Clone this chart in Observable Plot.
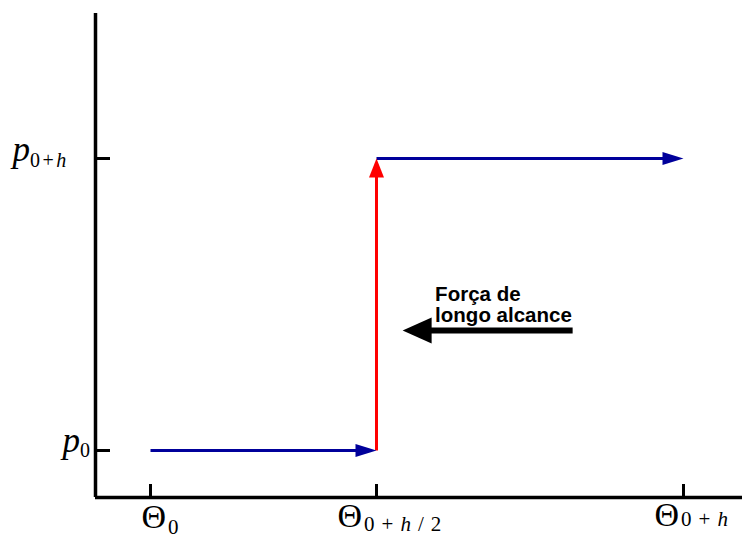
<!DOCTYPE html>
<html>
<head>
<meta charset="utf-8">
<script src="https://cdn.jsdelivr.net/npm/d3@7"></script>
<script src="https://cdn.jsdelivr.net/npm/@observablehq/plot@0.6"></script>
<style>
  html, body { margin: 0; padding: 0; background: #fff; }
  #chart svg { display: block; }
</style>
</head>
<body>
<div id="chart"></div>
<script>
// Momentum axis ticks: p0 and p(0+h)
const pValues = [0, 1];
const pBase = ["p", "p"];
const pSub = ["0", "0+h"];

// Angle axis ticks: θ0, θ(0+h/2), θ(0+h)
const thetaValues = [0, 0.424, 1];
const thetaBase = ["Θ", "Θ", "Θ"];
const thetaSub = ["0", "0+h/2", "0+h"];

// Trajectory corners in (θ, p): drift, kick, drift
const trajTheta = [0, 0.424, 0.424, 1];
const trajP = [0, 0, 1, 1];
const segColors = ["#00009b", "#ff0000", "#00009b"];

// Long-range force arrow (tail → tip) and its caption
const forceTheta = [0.792, 0.473];
const forceP = [0.411, 0.411];
const forceLabel = ["Força de\nlongo alcance"];
const forceLabelTheta = [0.534];
const forceLabelP = [0.564];

const xDomain = [-0.1032, 1.1107];
const yDomain = [-0.161, 1.4966];

const segments = d3.range(trajTheta.length - 1).map(i => ({
  x1: trajTheta[i], y1: trajP[i], x2: trajTheta[i + 1], y2: trajP[i + 1], color: segColors[i]
}));
const force = [{x1: forceTheta[0], y1: forceP[0], x2: forceTheta[1], y2: forceP[1]}];

// Filled triangular arrow head with its tip at the origin, pointing along (ux, uy)
function headSymbol(len, wid, ux, uy) {
  const nx = -uy, ny = ux;
  return {
    draw(ctx) {
      ctx.moveTo(0, 0);
      ctx.lineTo(-len * ux + (wid / 2) * nx, -len * uy + (wid / 2) * ny);
      ctx.lineTo(-len * ux - (wid / 2) * nx, -len * uy - (wid / 2) * ny);
      ctx.closePath();
    }
  };
}
const headRight = headSymbol(21, 13, 1, 0);
const headUp = headSymbol(19, 15, 0, -1);
const headLeft = headSymbol(29, 26, -1, 0);

const pLabels = pValues.map((d, i) => pBase[i] + pSub[i]);
const thetaLabels = thetaValues.map((d, i) => thetaBase[i] + thetaSub[i]);

const svg = Plot.plot({
  width: 742,
  height: 534,
  marginLeft: 95,
  marginRight: 0,
  marginTop: 13,
  marginBottom: 37,
  style: {background: "#fff"},
  x: {domain: xDomain, label: null},
  y: {domain: yDomain, label: null},
  marks: [
    // axis lines
    Plot.ruleX([xDomain[0]], {stroke: "#000", strokeWidth: 3.5}),
    Plot.ruleY([yDomain[0]], {stroke: "#000", strokeWidth: 3.5}),
    // inward tick marks
    Plot.tickY(pValues, {y: d => d, stroke: "#000", strokeWidth: 3, insetRight: 632}),
    Plot.tickX(thetaValues, {x: d => d, stroke: "#000", strokeWidth: 3, insetTop: 471}),
    // tick labels (typeset below)
    Plot.axisY(pValues, {tickSize: 0, tickPadding: 0, tickFormat: d => pLabels[pValues.indexOf(d)], label: null}),
    Plot.axisX(thetaValues, {tickSize: 0, tickPadding: 0, tickFormat: d => thetaLabels[thetaValues.indexOf(d)], label: null}),
    // trajectory shafts
    Plot.arrow(segments, {
      x1: "x1", y1: "y1", x2: "x2", y2: "y2",
      stroke: d => d.color, strokeWidth: 3, headLength: 0, insetEnd: 17, strokeLinecap: "butt"
    }),
    // trajectory heads
    Plot.dot(segments.filter(d => d.y1 === d.y2), {
      x: "x2", y: "y2", fill: d => d.color, stroke: "none", symbol: headRight, r: 5
    }),
    Plot.dot(segments.filter(d => d.y1 !== d.y2), {
      x: "x2", y: "y2", fill: d => d.color, stroke: "none", symbol: headUp, r: 5
    }),
    // long-range force
    Plot.arrow(force, {
      x1: "x1", y1: "y1", x2: "x2", y2: "y2",
      stroke: "#000", strokeWidth: 6, headLength: 0, insetEnd: 27, strokeLinecap: "butt"
    }),
    Plot.dot(force, {x: "x2", y: "y2", fill: "#000", stroke: "none", symbol: headLeft, r: 5}),
    Plot.text(forceLabel, {
      x: forceLabelTheta, y: forceLabelP, text: d => d,
      textAnchor: "start", lineAnchor: "top", lineHeight: 1.04,
      fontFamily: "Liberation Sans, Arial, sans-serif", fontWeight: "bold", fontSize: 20.5, fill: "#000"
    })
  ]
});

svg.setAttribute("color", "#000");

// Typeset a tick label as base symbol + spaced subscript (letters italic)
function typeset(textEl, base, sub, opt) {
  const t = d3.select(textEl);
  t.text(null)
    .attr("text-anchor", "start")
    .attr("font-family", "Liberation Serif, Times New Roman, serif")
    .attr("fill", "#000")
    .attr("x", opt.x)
    .attr("y", opt.y)
    .attr("dy", null);
  t.append("tspan")
    .attr("font-size", opt.baseSize)
    .attr("font-style", opt.baseItalic ? "italic" : "normal")
    .text(base);
  const s = t.append("tspan").attr("dy", opt.subDy).attr("font-size", opt.subSize);
  [...sub].forEach((ch, k) => {
    const span = s.append("tspan")
      .attr("font-style", /[a-z]/i.test(ch) ? "italic" : "normal")
      .attr("letter-spacing", opt.spacing)
      .text(ch);
    if (k === 0) span.attr("dx", opt.gap);
  });
}

const yLayout = [
  {x: -33, y: 2, subDy: 5},
  {x: -83, y: 2, subDy: 6}
];
d3.select(svg).selectAll('g[aria-label="y-axis tick label"] text').each(function () {
  const i = pLabels.indexOf(this.textContent);
  if (i < 0) return;
  const L = yLayout[i];
  typeset(this, pBase[i], pSub[i], {
    x: L.x, y: L.y, subDy: L.subDy, baseSize: 35, subSize: 20, baseItalic: true, spacing: 2.5, gap: 0
  });
});

const xLayout = [
  {x: -9, y: 30, subDy: 6},
  {x: -39, y: 29, subDy: 4},
  {x: -29, y: 28, subDy: 0}
];
d3.select(svg).selectAll('g[aria-label="x-axis tick label"] text').each(function () {
  const i = thetaLabels.indexOf(this.textContent);
  if (i < 0) return;
  const L = xLayout[i];
  typeset(this, thetaBase[i], thetaSub[i], {
    x: L.x, y: L.y, subDy: L.subDy, baseSize: 34, subSize: 21, baseItalic: false, spacing: 7, gap: 2
  });
});

document.getElementById("chart").appendChild(svg);
</script>
</body>
</html>
